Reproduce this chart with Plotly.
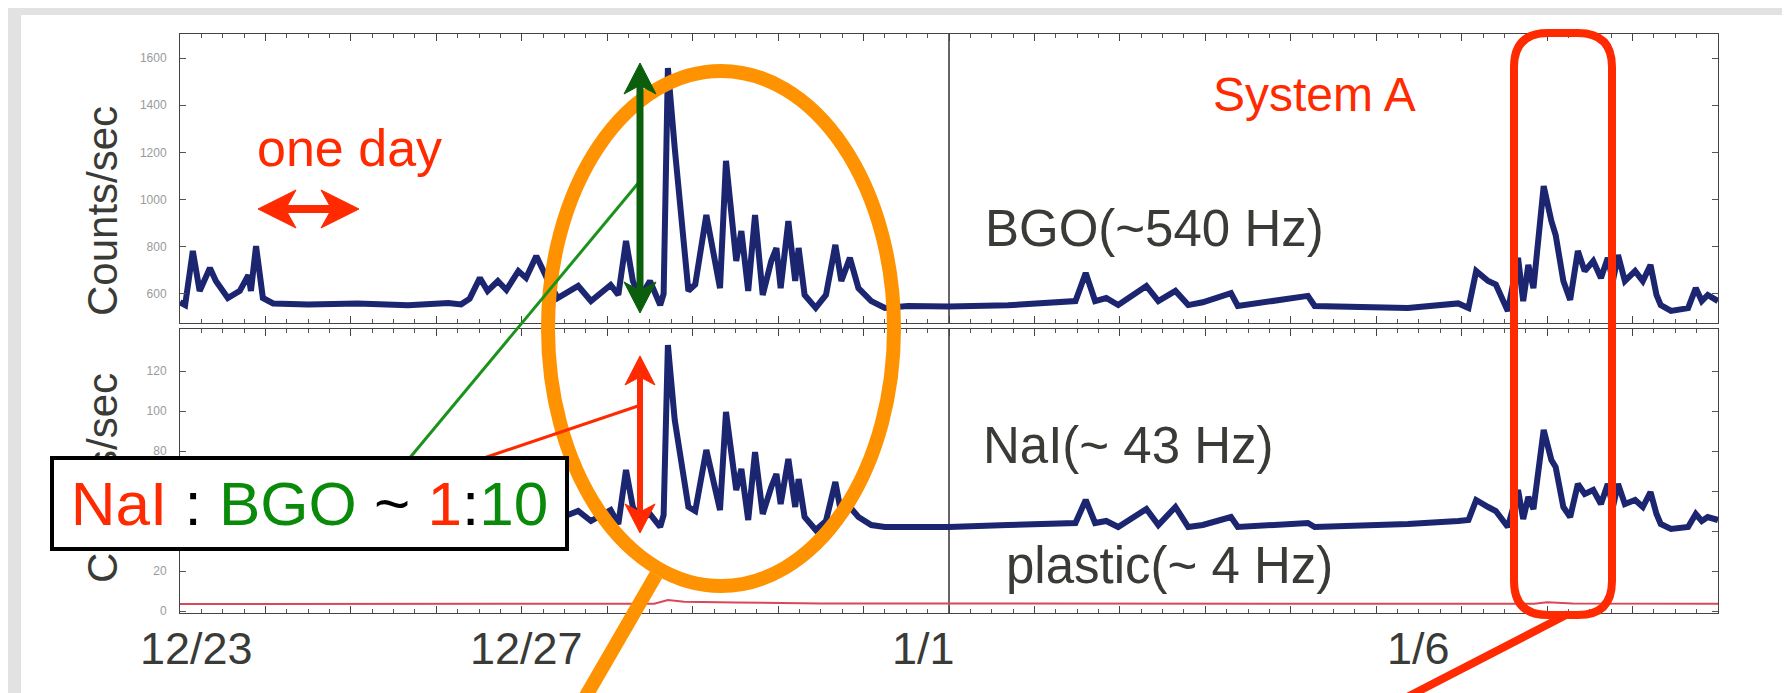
import plotly.graph_objects as go

# ---------------- data (x = days since 2010-12-23 00:00 JST) ----------------
days = [0.00, 0.06, 0.15, 0.23, 0.35, 0.42, 0.56, 0.70, 0.80, 0.83, 0.89, 0.97, 1.09, 1.50, 2.08,
        2.67, 3.14, 3.29, 3.39, 3.51, 3.60, 3.72, 3.82, 3.96, 4.05, 4.17, 4.31, 4.42, 4.66, 4.81,
        5.04, 5.13, 5.22, 5.30, 5.38, 5.50, 5.62, 5.66, 5.71, 5.79, 5.95, 6.03, 6.16, 6.32, 6.39,
        6.51, 6.57, 6.65, 6.73, 6.82, 6.92, 6.98, 7.03, 7.12, 7.20, 7.24, 7.31, 7.44, 7.56, 7.67,
        7.74, 7.84, 7.94, 8.09, 8.25, 8.52, 9.00, 9.69, 10.48, 10.60, 10.71, 10.84, 10.98, 11.31, 11.45,
        11.65, 11.80, 11.97, 12.30, 12.38, 13.20, 13.28, 14.37, 14.96, 15.08, 15.17, 15.31, 15.40, 15.54, 15.66,
        15.72, 15.78, 15.84, 15.96, 16.05, 16.10, 16.19, 16.27, 16.36, 16.44, 16.54, 16.63, 16.71, 16.77, 16.83,
        16.91, 17.03, 17.12, 17.21, 17.28, 17.33, 17.45, 17.65, 17.74, 17.81, 17.88, 18.00]

bgo_counts = [565, 553, 782, 613, 710, 655, 583, 613, 680, 613, 803, 583, 560, 555, 560,
              552, 562, 556, 580, 668, 613, 655, 617, 697, 668, 761, 655, 583, 634, 570,
              638, 596, 825, 655, 583, 655, 553, 600, 1558, 1219, 613, 640, 935, 625, 1164,
              740, 867, 613, 935, 596, 740, 795, 625, 909, 655, 795, 596, 541, 596, 808,
              655, 753, 625, 570, 541, 549, 547, 552, 570, 689, 570, 583, 553, 634, 570,
              613, 553, 565, 604, 549, 592, 549, 541, 560, 541, 697, 655, 640, 528, 753,
              570, 723, 625, 1057, 909, 850, 655, 575, 782, 697, 740, 668, 753, 655, 765,
              655, 697, 655, 723, 596, 553, 528, 540, 625, 570, 596, 570]

nai_counts = [44, 43, 63, 49, 57, 52, 46, 49, 55, 49, 65, 46, 43, 43, 44,
              43, 44, 43, 45, 53, 49, 52, 49, 56, 53, 62, 52, 46, 50, 45,
              50.5, 43.5, 70.5, 52, 46, 48.5, 42, 48, 133, 95.5, 52, 50, 80.5, 50.5, 99.5,
              60.5, 71, 45.5, 79.5, 48.5, 62, 68.5, 53.5, 76, 52, 66, 47, 40.5, 45, 64.5,
              48.5, 52, 47, 43, 42, 42, 42, 43, 44, 55.5, 44, 45, 42, 51, 43,
              52, 42, 43, 47, 42, 44, 42, 43.5, 45, 45.5, 55.5, 52, 50, 42, 60.5,
              46, 57, 51, 90.5, 75.5, 72, 52, 47, 63.5, 58.5, 60.5, 53.5, 63.5, 52, 63.5,
              53.5, 55.5, 52, 59.5, 48.5, 43.5, 41, 42, 48.5, 45, 47, 45.5]

plastic_days = [0.0, 5.55, 5.71, 5.90, 6.50, 7.50, 15.85, 16.00, 16.30, 18.0]
plastic_counts = [3.5, 3.6, 5.5, 4.6, 4.2, 3.8, 3.6, 4.4, 3.8, 3.6]

top_ticks = [600, 800, 1000, 1200, 1400, 1600]
bottom_ticks = [0, 20, 40, 60, 80, 100, 120]
# 40 and 60 sit behind the ratio box on the slide
bottom_tick_text = ["0", "20", "", "", "80", "100", "120"]

date_labels = ["12/23", "12/27", "1/1", "1/6", "JST"]
date_label_days = [0.19, 4.06, 8.70, 14.50, 18.24]
new_year_day = 9.0

# ---------------- layout geometry (pixels of the 1790x693 page) ----------------
W, H = 1790, 693
L, R, T, B = 172, 1710, 26, 605


def px(x):
    return (x - L) / (R - L)


def py(y):
    return (B - y) / (B - T)


NAVY = "#1c2570"
RED = "#ff2a00"
ORANGE = "#ff9200"
DKGREEN = "#0b5e0b"
GREEN = "#1a931a"
TXT = "#3a3a36"
SANS = "Liberation Sans, Arial, Helvetica, sans-serif"

fig = go.Figure()
fig.add_trace(go.Scatter(x=days, y=bgo_counts, mode="lines", xaxis="x", yaxis="y",
                         line=dict(color=NAVY, width=6, simplify=False), showlegend=False, name="BGO"))
fig.add_trace(go.Scatter(x=days, y=nai_counts, mode="lines", xaxis="x2", yaxis="y2",
                         line=dict(color=NAVY, width=6, simplify=False), showlegend=False, name="NaI"))
fig.add_trace(go.Scatter(x=plastic_days, y=plastic_counts, mode="lines", xaxis="x2", yaxis="y2",
                         line=dict(color="#d9475a", width=2), showlegend=False, name="plastic"))

xcommon = dict(range=[0, 18], showline=True, linecolor="#444", linewidth=1, mirror="ticks",
               ticks="inside", tickcolor="#444", tick0=0, dtick=1, ticklen=7,
               showticklabels=False, showgrid=False, zeroline=False,
               minor=dict(ticks="inside", tick0=0, dtick=0.25, ticklen=4, tickcolor="#555",
                          showgrid=False))
ycommon = dict(showline=True, linecolor="#444", linewidth=1, mirror="ticks", ticks="inside",
               ticklen=6, tickcolor="#555", showgrid=False, zeroline=False, ticklabelstandoff=10,
               tickfont=dict(size=12, color="#9a9a9a", family=SANS))

fig.update_layout(
    width=W, height=H,
    margin=dict(l=L, r=W - R, t=T, b=H - B, pad=0),
    paper_bgcolor="white", plot_bgcolor="white",
    xaxis=dict(anchor="y", domain=[0, 1], **xcommon),
    xaxis2=dict(anchor="y2", domain=[0, 1], **xcommon),
    yaxis=dict(anchor="x", domain=[py(315), 1], range=[477, 1702], tickvals=top_ticks, **ycommon),
    yaxis2=dict(anchor="x2", domain=[0, py(321)], range=[-1, 141], tickvals=bottom_ticks,
                ticktext=bottom_tick_text, **ycommon),
)

shapes = []
# slide card edges
shapes.append(dict(type="rect", xref="paper", yref="paper", x0=px(0), x1=px(W), y0=py(7), y1=py(0),
                   fillcolor="#e2e2e2", line=dict(width=0), layer="below"))
shapes.append(dict(type="rect", xref="paper", yref="paper", x0=px(0), x1=px(13), y0=py(H), y1=py(0),
                   fillcolor="#e2e2e2", line=dict(width=0), layer="below"))
# 1/1 divider
for xr, yr in (("x", "y domain"), ("x2", "y2 domain")):
    shapes.append(dict(type="line", xref=xr, yref=yr, x0=new_year_day, x1=new_year_day, y0=0, y1=1,
                       line=dict(color="#333", width=1.5), layer="below"))
# orange ellipse and its tail
shapes.append(dict(type="circle", xref="paper", yref="paper", x0=px(540), x1=px(886),
                   y0=py(578), y1=py(63), line=dict(color=ORANGE, width=14), layer="above"))
shapes.append(dict(type="line", xref="paper", yref="paper", x0=px(648), y0=py(567), x1=px(571), y1=py(700),
                   line=dict(color=ORANGE, width=14), layer="above"))


def pth(cmds):
    s = ""
    for cmd, ps in cmds:
        s += cmd + " " + " ".join(f"{px(a):.5f},{py(b):.5f}" for a, b in ps) + " "
    return s + "Z"


# red rounded rectangle
def rounded(x0, y0, x1, y1, r):
    return pth([("M", [(x0 + r, y0)]), ("L", [(x1 - r, y0)]), ("Q", [(x1, y0), (x1, y0 + r)]),
                ("L", [(x1, y1 - r)]), ("Q", [(x1, y1), (x1 - r, y1)]), ("L", [(x0 + r, y1)]),
                ("Q", [(x0, y1), (x0, y1 - r)]), ("L", [(x0, y0 + r)]), ("Q", [(x0, y0), (x0 + r, y0)])])


shapes.append(dict(type="path", xref="paper", yref="paper", path=rounded(1506, 25, 1604, 607, 34),
                   line=dict(color=RED, width=8), layer="above"))
shapes.append(dict(type="line", xref="paper", yref="paper", x0=px(1560), y0=py(606), x1=px(1378), y1=py(700),
                   line=dict(color=RED, width=8), layer="above"))
# connector lines from ratio box
shapes.append(dict(type="line", xref="paper", yref="paper", x0=px(400), y0=py(452), x1=px(632), y1=py(173),
                   line=dict(color=GREEN, width=3), layer="above"))
shapes.append(dict(type="line", xref="paper", yref="paper", x0=px(470), y0=py(452), x1=px(630), y1=py(398),
                   line=dict(color=RED, width=3), layer="above"))


# double-headed arrows (shaft + two notched heads)
def darrow(x0, y0, x1, y1, color, width, hl, hw):
    dx, dy = x1 - x0, y1 - y0
    n = (dx * dx + dy * dy) ** 0.5
    ux, uy = dx / n, dy / n
    nx, ny = -uy, ux
    shapes.append(dict(type="line", xref="paper", yref="paper",
                       x0=px(x0 + ux * hl * 0.6), y0=py(y0 + uy * hl * 0.6),
                       x1=px(x1 - ux * hl * 0.6), y1=py(y1 - uy * hl * 0.6),
                       line=dict(color=color, width=width), layer="above"))
    for (tx, ty, sx) in ((x1, y1, 1), (x0, y0, -1)):
        bx, by = tx - sx * ux * hl, ty - sx * uy * hl
        mx, my = tx - sx * ux * hl * 0.72, ty - sx * uy * hl * 0.72
        p = pth([("M", [(tx, ty)]), ("L", [(bx + nx * hw / 2, by + ny * hw / 2)]), ("L", [(mx, my)]),
                 ("L", [(bx - nx * hw / 2, by - ny * hw / 2)])])
        shapes.append(dict(type="path", xref="paper", yref="paper", path=p, fillcolor=color,
                           line=dict(color=color, width=1), layer="above"))


darrow(250, 201, 351, 201, RED, 8, 38, 38)
darrow(632, 55, 632, 305, DKGREEN, 7, 31, 32)
darrow(632, 348, 632, 525, RED, 6, 29, 30)
fig.update_layout(shapes=shapes)

ann = []


def text(x, y, s, size, color=TXT, angle=0, **kw):
    ann.append(dict(xref="paper", yref="paper", x=px(x), y=py(y), text=s, showarrow=False,
                    xanchor="center", yanchor="middle", textangle=angle,
                    font=dict(size=size, color=color, family=SANS), **kw))


# axis titles
text(94, 203, "Counts/sec", 42, angle=-90)
text(94, 470, "Counts/sec", 42, angle=-90)
# date labels under the plot
for lab, d in zip(date_labels, date_label_days):
    ann.append(dict(xref="x2", yref="paper", x=d, y=py(640), text=lab, showarrow=False,
                    xanchor="center", yanchor="middle", font=dict(size=45, color=TXT, family=SANS)))
# slide annotations
text(341, 140, "one day", 52, color=RED)
text(1306, 86, "System A", 48, color=RED)
text(1146, 220, "BGO(~540 Hz)", 51)
text(1120, 437, "NaI(~ 43 Hz)", 51)
text(1161, 557, "plastic(~ 4 Hz)", 51)
box_txt = (f"<span style='color:{RED}'>NaI</span> : <span style='color:#0a8a0a'>BGO</span> ~ "
           f"<span style='color:{RED}'>1</span>:<span style='color:#0a8a0a'>10</span>")
text(301.5, 495.5, box_txt, 62, color="black", bgcolor="white", bordercolor="black",
     borderwidth=4, borderpad=0, width=511, height=87, align="center", valign="middle")

fig.update_layout(annotations=ann)
fig.write_html("out.html")
